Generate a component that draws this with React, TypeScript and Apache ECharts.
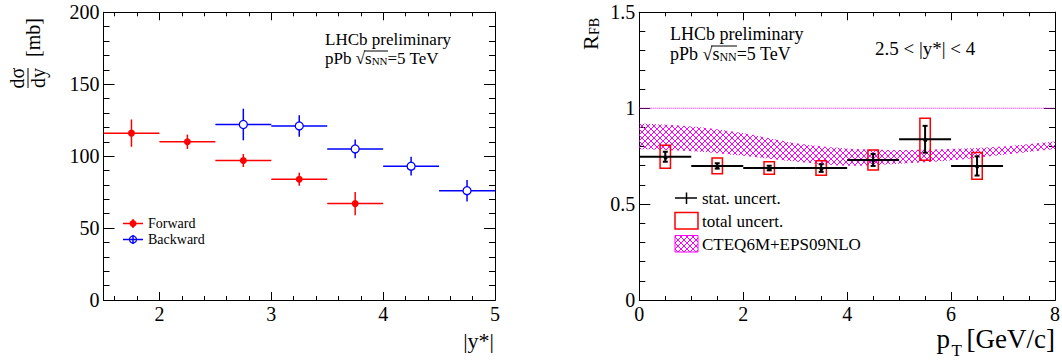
import React, { useEffect, useRef } from "react";
import * as echarts from "echarts";

const FONT = '"Liberation Serif", "Times New Roman", Times, serif';

// ---------- Left panel: dσ/dy versus |y*| ----------
const fwdYStar = [1.75, 2.25, 2.75, 3.25, 3.75];
const fwdXsec = [116, 110, 97, 84, 67];
const fwdErr = [9.5, 5, 4.5, 4.5, 8];
const bwdYStar = [2.75, 3.25, 3.75, 4.25, 4.75];
const bwdXsec = [122, 121, 105, 93, 76];
const bwdErr = [11, 7.5, 6.5, 6.5, 7.5];
const yStarHalfBin = 0.25;
const leftXLabels = [2, 3, 4, 5];
const leftYLabels = [0, 50, 100, 150, 200];

// ---------- Right panel: R_FB versus pT ----------
const ptCenters = [0.5, 1.5, 2.5, 3.5, 4.5, 5.5, 6.5];
const rfbValues = [0.747, 0.699, 0.688, 0.688, 0.73, 0.838, 0.699];
const rfbStat = [0.026, 0.014, 0.012, 0.02, 0.031, 0.07, 0.05];
const rfbTotal = [0.06, 0.041, 0.033, 0.038, 0.052, 0.11, 0.07];
const ptHalfBin = 0.5;
const bandPt = [0, 1, 2, 3, 4, 5, 6, 7, 8];
const bandLower = [0.787, 0.776, 0.752, 0.722, 0.7, 0.71, 0.728, 0.757, 0.787];
const bandUpper = [0.921, 0.905, 0.87, 0.818, 0.79, 0.782, 0.788, 0.8, 0.827];
const rightXLabels = [0, 2, 4, 6, 8];
const rightYLabels = [0, 0.5, 1, 1.5];

const BOX_HALF = 0.1;

function minorTicks(min: number, max: number, step: number, majors: number[]) {
  const out: number[] = [];
  const n = Math.round((max - min) / step);
  for (let i = 0; i <= n; i++) {
    const v = +(min + i * step).toFixed(6);
    if (!majors.some((m) => Math.abs(m - v) < 1e-9)) out.push(v);
  }
  return out;
}

function axis(
  gridIndex: number,
  position: string,
  min: number,
  max: number,
  tickValues: number[],
  len: number,
  labels: number[] | null
) {
  return {
    type: "value",
    gridIndex,
    position,
    min,
    max,
    axisLine: { show: true, onZero: false, lineStyle: { color: "#000", width: 1 } },
    axisTick: {
      show: true,
      inside: true,
      length: len,
      customValues: tickValues,
      lineStyle: { color: "#000", width: 1 },
    },
    axisLabel: labels
      ? {
          show: true,
          customValues: labels,
          color: "#000",
          fontFamily: FONT,
          fontSize: 20,
          margin: 4,
        }
      : { show: false },
    splitLine: { show: false },
  };
}

function txt(text: string, x: number, y: number, size: number, extra: any = {}) {
  return {
    type: "text",
    x,
    y,
    silent: true,
    style: {
      text,
      fontSize: size,
      fontFamily: FONT,
      fill: "#000",
      align: extra.align || "left",
      verticalAlign: extra.va || "middle",
      ...(extra.style || {}),
    },
  };
}

function sqrtText(x: number, y: number, size: number, lh: number) {
  const sub = Math.round(size * 0.65);
  return {
    type: "text",
    x,
    y,
    silent: true,
    style: {
      text: "pPb √{s|s}{sub|NN}=5 TeV",
      fontSize: size,
      fontFamily: FONT,
      fill: "#000",
      lineHeight: lh,
      align: "left",
      verticalAlign: "middle",
      rich: {
        s: { fontSize: size, fontFamily: FONT, fill: "#000", lineHeight: lh },
        sub: { fontSize: sub, fontFamily: FONT, fill: "#000", lineHeight: sub, verticalAlign: "bottom" },
      },
    },
  };
}

// Catmull-Rom sampling of pixel points (drawing only)
function smoothPts(pts: number[][], steps = 12) {
  const out: number[][] = [];
  const n = pts.length;
  for (let i = 0; i < n - 1; i++) {
    const p0 = pts[Math.max(i - 1, 0)];
    const p1 = pts[i];
    const p2 = pts[i + 1];
    const p3 = pts[Math.min(i + 2, n - 1)];
    for (let s = 0; s < steps; s++) {
      const t = s / steps;
      const t2 = t * t;
      const t3 = t2 * t;
      const f = (a: number, b: number, c: number, d: number) =>
        0.5 * (2 * b + (-a + c) * t + (2 * a - 5 * b + 4 * c - d) * t2 + (-a + 3 * b - 3 * c + d) * t3);
      out.push([f(p0[0], p1[0], p2[0], p3[0]), f(p0[1], p1[1], p2[1], p3[1])]);
    }
  }
  out.push(pts[n - 1]);
  return out;
}

export default function App() {
  const ref = useRef<HTMLDivElement>(null);

  useEffect(() => {
    if (!ref.current) return;
    const chart = echarts.init(ref.current, undefined, { renderer: "svg" });

    const cv = document.createElement("canvas");
    cv.width = 6;
    cv.height = 6;
    const ctx = cv.getContext("2d");
    if (ctx) {
      ctx.strokeStyle = "#ff00ff";
      ctx.lineWidth = 1;
      ctx.beginPath();
      ctx.moveTo(-1, -1);
      ctx.lineTo(7, 7);
      ctx.moveTo(-1, 7);
      ctx.lineTo(7, -1);
      ctx.stroke();
    }
    const hatch: any = { image: cv, repeat: "repeat", imageWidth: 6, imageHeight: 6 };

    const leftXMinor = minorTicks(1.6, 4.8, 0.2, leftXLabels);
    const leftYMinor = minorTicks(0, 200, 10, leftYLabels);
    const rightXMinor = minorTicks(0, 8, 0.5, rightXLabels);
    const rightYMinor = minorTicks(0, 1.5, 0.1, rightYLabels);

    const errRender = (color: string, open: boolean) => (params: any, api: any) => {
      const x = api.value(0);
      const y = api.value(1);
      const xe = api.value(2);
      const ye = api.value(3);
      const c = api.coord([x, y]);
      const l = api.coord([x - xe, y]);
      const r = api.coord([x + xe, y]);
      const t = api.coord([x, y + ye]);
      const b = api.coord([x, y - ye]);
      return {
        type: "group",
        children: [
          { type: "line", shape: { x1: l[0], y1: c[1], x2: r[0], y2: c[1] }, style: { stroke: color, lineWidth: 1.5 } },
          { type: "line", shape: { x1: c[0], y1: t[1], x2: c[0], y2: b[1] }, style: { stroke: color, lineWidth: 1.5 } },
          {
            type: "circle",
            shape: { cx: c[0], cy: c[1], r: open ? 4 : 3.5 },
            style: open ? { fill: "#fff", stroke: color, lineWidth: 1.3 } : { fill: color },
          },
        ],
      };
    };

    const statRender = (params: any, api: any) => {
      const x = api.value(0);
      const y = api.value(1);
      const xe = api.value(2);
      const ye = api.value(3);
      const c = api.coord([x, y]);
      const l = api.coord([x - xe, y]);
      const r = api.coord([x + xe, y]);
      const t = api.coord([x, y + ye]);
      const b = api.coord([x, y - ye]);
      const s = { stroke: "#000", lineWidth: 2 };
      return {
        type: "group",
        children: [
          { type: "line", shape: { x1: l[0], y1: c[1], x2: r[0], y2: c[1] }, style: s },
          { type: "line", shape: { x1: c[0], y1: t[1], x2: c[0], y2: b[1] }, style: s },
          { type: "line", shape: { x1: c[0] - 2.5, y1: t[1], x2: c[0] + 2.5, y2: t[1] }, style: s },
          { type: "line", shape: { x1: c[0] - 2.5, y1: b[1], x2: c[0] + 2.5, y2: b[1] }, style: s },
          { type: "circle", shape: { cx: c[0], cy: c[1], r: 2 }, style: { fill: "#000" } },
        ],
      };
    };

    const boxRender = (params: any, api: any) => {
      const x = api.value(0);
      const y = api.value(1);
      const te = api.value(2);
      const p1 = api.coord([x - BOX_HALF, y + te]);
      const p2 = api.coord([x + BOX_HALF, y - te]);
      return {
        type: "rect",
        shape: { x: p1[0], y: p1[1], width: p2[0] - p1[0], height: p2[1] - p1[1] },
        style: { fill: "none", stroke: "#ff0000", lineWidth: 1.5 },
      };
    };

    const bandRender = (params: any, api: any) => {
      if (params.dataIndex !== 0) return null;
      const up = bandPt.map((x, i) => api.coord([x, bandUpper[i]]));
      const lo = bandPt.map((x, i) => api.coord([x, bandLower[i]]));
      const pts = smoothPts(up).concat(smoothPts(lo).reverse());
      return {
        type: "polygon",
        shape: { points: pts },
        style: { fill: hatch, stroke: "none" },
      };
    };

    const option: any = {
      animation: false,
      backgroundColor: "#fff",
      grid: [
        { left: 103.5, top: 12.3, width: 391.5, height: 287.7, outerBoundsMode: "none" },
        { left: 639.3, top: 12.3, width: 415.7, height: 287.7, outerBoundsMode: "none" },
      ],
      xAxis: [
        axis(0, "bottom", 1.5, 5, leftXLabels, 8, leftXLabels),
        axis(0, "bottom", 1.5, 5, leftXMinor, 4, null),
        axis(0, "top", 1.5, 5, leftXLabels, 8, null),
        axis(0, "top", 1.5, 5, leftXMinor, 4, null),
        axis(1, "bottom", 0, 8, rightXLabels, 8, rightXLabels),
        axis(1, "bottom", 0, 8, rightXMinor, 4, null),
        axis(1, "top", 0, 8, rightXLabels, 8, null),
        axis(1, "top", 0, 8, rightXMinor, 4, null),
      ],
      yAxis: [
        axis(0, "left", 0, 200, leftYLabels, 11, leftYLabels),
        axis(0, "left", 0, 200, leftYMinor, 6, null),
        axis(0, "right", 0, 200, leftYLabels, 11, null),
        axis(0, "right", 0, 200, leftYMinor, 6, null),
        axis(1, "left", 0, 1.5, rightYLabels, 11, rightYLabels),
        axis(1, "left", 0, 1.5, rightYMinor, 6, null),
        axis(1, "right", 0, 1.5, rightYLabels, 11, null),
        axis(1, "right", 0, 1.5, rightYMinor, 6, null),
      ],
      series: [
        {
          type: "custom",
          name: "Forward",
          xAxisIndex: 0,
          yAxisIndex: 0,
          encode: { x: 0, y: 1 },
          data: fwdYStar.map((x, i) => [x, fwdXsec[i], yStarHalfBin, fwdErr[i]]),
          renderItem: errRender("#ff0000", false),
        },
        {
          type: "custom",
          name: "Backward",
          xAxisIndex: 0,
          yAxisIndex: 0,
          encode: { x: 0, y: 1 },
          data: bwdYStar.map((x, i) => [x, bwdXsec[i], yStarHalfBin, bwdErr[i]]),
          renderItem: errRender("#0000ff", true),
        },
        {
          type: "custom",
          name: "CTEQ6M+EPS09NLO",
          xAxisIndex: 4,
          yAxisIndex: 4,
          encode: { x: 0, y: [1, 2] },
          silent: true,
          data: bandPt.map((x, i) => [x, bandLower[i], bandUpper[i]]),
          renderItem: bandRender,
        },
        {
          type: "line",
          name: "unity",
          xAxisIndex: 4,
          yAxisIndex: 4,
          symbol: "none",
          silent: true,
          lineStyle: { color: "#ff00ff", type: "dotted", width: 1 },
          data: [
            [0, 1],
            [8, 1],
          ],
        },
        {
          type: "custom",
          name: "total uncert.",
          xAxisIndex: 4,
          yAxisIndex: 4,
          encode: { x: 0, y: 1 },
          data: ptCenters.map((x, i) => [x, rfbValues[i], rfbTotal[i]]),
          renderItem: boxRender,
        },
        {
          type: "custom",
          name: "stat. uncert.",
          xAxisIndex: 4,
          yAxisIndex: 4,
          encode: { x: 0, y: 1 },
          data: ptCenters.map((x, i) => [x, rfbValues[i], ptHalfBin, rfbStat[i]]),
          renderItem: statRender,
        },
      ],
      graphic: [
        // left y title
        {
          type: "group",
          x: 28,
          y: 57,
          rotation: Math.PI / 2,
          silent: true,
          children: [
            txt("dσ", -21, -11, 20, { align: "center" }),
            { type: "line", shape: { x1: -31, y1: 0, x2: -11, y2: 0 }, style: { stroke: "#000", lineWidth: 1 } },
            txt("dy", -21, 10, 20, { align: "center" }),
            txt("[mb]", 0, 5, 20),
          ],
        },
        txt("|y*|", 494, 340, 22, { align: "right" }),
        txt("LHCb preliminary", 325, 39.5, 17, { style: { lineHeight: 16 } }),
        sqrtText(325, 58.5, 17, 16),
        { type: "line", silent: true, shape: { x1: 364, y1: 51, x2: 388, y2: 51 }, style: { stroke: "#000", lineWidth: 1 } },
        // left legend
        { type: "line", silent: true, shape: { x1: 123, y1: 223.5, x2: 143, y2: 223.5 }, style: { stroke: "#ff0000", lineWidth: 1.5 } },
        { type: "line", silent: true, shape: { x1: 133, y1: 219, x2: 133, y2: 228 }, style: { stroke: "#ff0000", lineWidth: 1.5 } },
        { type: "circle", silent: true, shape: { cx: 133, cy: 223.5, r: 3.5 }, style: { fill: "#ff0000" } },
        txt("Forward", 148, 223.5, 14, { style: { lineHeight: 14 } }),
        { type: "circle", silent: true, shape: { cx: 133, cy: 239.5, r: 3.5 }, style: { fill: "#fff", stroke: "#0000ff", lineWidth: 1.2 } },
        { type: "line", silent: true, shape: { x1: 123, y1: 239.5, x2: 143, y2: 239.5 }, style: { stroke: "#0000ff", lineWidth: 1.5 } },
        { type: "line", silent: true, shape: { x1: 133, y1: 235, x2: 133, y2: 244 }, style: { stroke: "#0000ff", lineWidth: 1.5 } },
        txt("Backward", 148, 239.5, 14, { style: { lineHeight: 14 } }),
        // right y title
        {
          type: "group",
          x: 590.5,
          y: 50,
          rotation: Math.PI / 2,
          silent: true,
          children: [txt("R", 0, 0, 22), txt("FB", 15, 3.5, 14)],
        },
        // right x title
        txt("[GeV/c]", 1055, 339, 27, { align: "right", style: { lineHeight: 24 } }),
        txt("T", 962, 350, 17, { align: "right", style: { lineHeight: 14 } }),
        txt("p", 950, 339, 27, { align: "right", style: { lineHeight: 24 } }),
        txt("LHCb preliminary", 670, 34, 18, { style: { lineHeight: 17 } }),
        sqrtText(670, 54, 18, 17),
        { type: "line", silent: true, shape: { x1: 711, y1: 46, x2: 737, y2: 46 }, style: { stroke: "#000", lineWidth: 1 } },
        txt("2.5 < |y*| < 4", 875, 48, 19),
        // right legend
        { type: "line", silent: true, shape: { x1: 675, y1: 198, x2: 697, y2: 198 }, style: { stroke: "#000", lineWidth: 1.5 } },
        { type: "line", silent: true, shape: { x1: 686.5, y1: 192.5, x2: 686.5, y2: 204 }, style: { stroke: "#000", lineWidth: 1.5 } },
        txt("stat. uncert.", 702, 198, 17, { style: { lineHeight: 17 } }),
        { type: "rect", silent: true, shape: { x: 675, y: 212.5, width: 23, height: 16.5 }, style: { fill: "none", stroke: "#ff0000", lineWidth: 1.5 } },
        txt("total uncert.", 702, 221, 17, { style: { lineHeight: 17 } }),
        { type: "rect", silent: true, shape: { x: 675, y: 235.5, width: 23, height: 16.5 }, style: { fill: hatch, stroke: "#ff00ff", lineWidth: 1 } },
        txt("CTEQ6M+EPS09NLO", 702, 244, 17, { style: { lineHeight: 17 } }),
      ],
    };

    chart.setOption(option);
    return () => chart.dispose();
  }, []);

  return (
    <div
      ref={ref}
      style={{ position: "fixed", left: 0, top: 0, width: 1062, height: 360, background: "#fff" }}
    />
  );
}
